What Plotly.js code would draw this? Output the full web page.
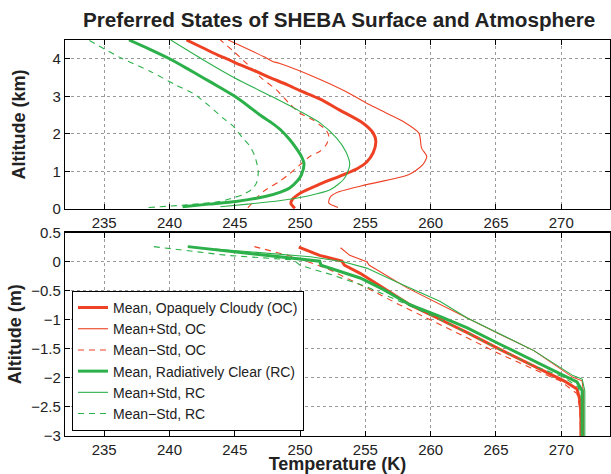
<!DOCTYPE html>
<html>
<head>
<meta charset="utf-8">
<script src="https://cdn.plot.ly/plotly-3.0.1.min.js"></script>
<style>html,body{margin:0;padding:0;background:#fff}#chart{width:611px;height:474px}</style>
</head>
<body>
<div id="chart"></div>
<script>
// ---- Data: upper panel (altitude in km) ----
const ocMeanKmT = [249.6, 249.3, 249.4, 250.0, 251.5, 253.3, 254.4, 255.1, 255.6, 255.8, 255.6, 254.8, 253.0, 251.5, 250.0, 249.0, 247.7, 246.4, 245.0, 244.4, 243.7, 242.5, 241.3];
const ocMeanKmZ = [0.02, 0.15, 0.25, 0.42, 0.66, 0.91, 1.08, 1.25, 1.5, 1.8, 2.02, 2.29, 2.64, 2.93, 3.15, 3.31, 3.5, 3.7, 3.9, 4.0, 4.1, 4.3, 4.5];
const ocPlusKmT = [252.9, 252.2, 252.3, 252.9, 255.1, 258.3, 259.4, 259.7, 259.3, 259.1, 257.9, 256.1, 255.3, 253.5, 251.0, 248.4, 247.9, 247.2, 244.5];
const ocPlusKmZ = [0.04, 0.16, 0.31, 0.45, 0.65, 0.91, 1.18, 1.4, 1.62, 2.02, 2.33, 2.64, 2.78, 3.13, 3.53, 3.88, 3.93, 4.06, 4.5];
const ocMinusKmT = [246.0, 246.2, 246.7, 247.2, 248.4, 249.1, 250.0, 250.8, 251.5, 252.0, 252.2, 252.0, 251.5, 251.0, 250.0, 249.2, 248.2, 247.0, 245.9, 244.9, 243.9];
const ocMinusKmZ = [0.03, 0.11, 0.3, 0.47, 0.73, 0.91, 1.18, 1.41, 1.53, 1.71, 1.93, 2.1, 2.24, 2.37, 2.55, 2.8, 3.17, 3.5, 3.88, 4.2, 4.5];
const rcMeanKmT = [241.0, 243.0, 245.1, 247.4, 248.5, 249.2, 249.8, 250.1, 250.3, 250.1, 249.7, 249.2, 248.5, 247.8, 246.9, 246.0, 245.0, 243.8, 242.6, 241.3, 240.0, 238.5, 236.9];
const rcMeanKmZ = [0.06, 0.13, 0.2, 0.34, 0.45, 0.56, 0.75, 0.91, 1.2, 1.4, 1.62, 1.85, 2.11, 2.3, 2.51, 2.75, 3.0, 3.25, 3.49, 3.75, 4.0, 4.25, 4.5];
const rcPlusKmT = [243.9, 246.0, 248.4, 250.5, 252.3, 253.4, 253.8, 253.5, 252.8, 251.5, 249.9, 247.8, 245.0, 242.6, 240.1];
const rcPlusKmZ = [0.06, 0.13, 0.22, 0.34, 0.51, 0.82, 1.18, 1.53, 1.89, 2.3, 2.62, 3.0, 3.49, 3.97, 4.5];
const rcMinusKmT = [238.4, 241.3, 243.85, 244.9, 245.6, 246.4, 246.7, 246.8, 246.7, 246.5, 246.1, 245.6, 244.9, 244.1, 243.0, 241.8, 240.5, 238.5, 236.3, 233.8];
const rcMinusKmZ = [0.04, 0.11, 0.2, 0.3, 0.38, 0.55, 0.73, 1.0, 1.2, 1.44, 1.7, 1.89, 2.2, 2.42, 2.76, 3.08, 3.3, 3.67, 4.02, 4.5];

// ---- Data: lower panel (altitude in m) ----
const ocMeanMT = [249.9, 251.5, 253.2, 253.4, 254.6, 256.4, 258.4, 260.7, 262.8, 265.3, 267.9, 270.2, 271.2, 271.4, 271.5, 271.5];
const ocMeanMZ = [0.25, 0.11, 0.01, -0.06, -0.2, -0.45, -0.74, -0.99, -1.22, -1.51, -1.79, -2.05, -2.19, -2.36, -2.6, -3.0];
const ocPlusMT = [253.1, 253.8, 255.1, 255.3, 258.2, 260.2, 262.8, 265.3, 267.9, 270.9, 271.6, 271.7, 271.7];
const ocPlusMZ = [0.24, 0.11, 0.0, -0.06, -0.45, -0.68, -0.97, -1.25, -1.53, -1.99, -2.05, -2.27, -3.0];
const ocMinusMT = [246.5, 249.5, 252.0, 255.1, 257.6, 260.2, 262.8, 265.3, 267.9, 269.9, 271.2, 271.4, 271.5];
const ocMinusMZ = [0.26, 0.085, -0.11, -0.45, -0.74, -1.02, -1.31, -1.59, -1.85, -2.05, -2.27, -2.5, -3.0];
const rcMeanMT = [241.4, 250.8, 251.5, 251.6, 253.1, 254.6, 256.4, 258.4, 260.7, 262.8, 265.3, 267.9, 270.2, 271.2, 271.6, 271.6, 271.6];
const rcMeanMZ = [0.26, 0.03, 0.01, -0.06, -0.17, -0.28, -0.48, -0.74, -0.94, -1.14, -1.42, -1.70, -1.96, -2.07, -2.22, -2.39, -3.0];
const rcPlusMT = [243.5, 250.8, 253.3, 255.1, 257.6, 260.7, 262.8, 265.3, 267.9, 270.9, 271.6, 271.8, 271.8];
const rcPlusMZ = [0.22, 0.085, 0.0, -0.11, -0.37, -0.68, -0.97, -1.25, -1.53, -1.96, -2.02, -2.22, -3.0];
const rcMinusMT = [238.8, 244.4, 249.5, 250.0, 252.5, 255.1, 257.6, 260.2, 262.8, 265.3, 267.9, 270.2, 271.3, 271.6, 271.6];
const rcMinusMZ = [0.26, 0.11, 0.03, -0.06, -0.23, -0.43, -0.68, -0.94, -1.22, -1.51, -1.79, -1.99, -2.16, -2.39, -3.0];

const seriesNames = ['Mean, Opaquely Cloudy (OC)', 'Mean+Std, OC', 'Mean\u2212Std, OC',
                     'Mean, Radiatively Clear (RC)', 'Mean+Std, RC', 'Mean\u2212Std, RC'];
const kmT = [ocMeanKmT, ocPlusKmT, ocMinusKmT, rcMeanKmT, rcPlusKmT, rcMinusKmT];
const kmZ = [ocMeanKmZ, ocPlusKmZ, ocMinusKmZ, rcMeanKmZ, rcPlusKmZ, rcMinusKmZ];
const mT = [ocMeanMT, ocPlusMT, ocMinusMT, rcMeanMT, rcPlusMT, rcMinusMT];
const mZ = [ocMeanMZ, ocPlusMZ, ocMinusMZ, rcMeanMZ, rcPlusMZ, rcMinusMZ];

const RED = '#ee4124', GREEN = '#2cb04a';
const styles = [
  {color: RED, width: 3, dash: 'solid'},
  {color: RED, width: 1.1, dash: 'solid'},
  {color: RED, width: 1.1, dash: '6px,5px'},
  {color: GREEN, width: 3, dash: 'solid'},
  {color: GREEN, width: 1.1, dash: 'solid'},
  {color: GREEN, width: 1.1, dash: '6px,5px'}
];

const traces = [];
for (let i = 0; i < 6; i++) {
  traces.push({x: kmT[i], y: kmZ[i], xaxis: 'x2', yaxis: 'y2', mode: 'lines', name: seriesNames[i],
    showlegend: false, line: Object.assign({shape: 'spline', smoothing: 0.7}, styles[i]), hoverinfo: 'skip'});
}
for (let i = 0; i < 6; i++) {
  traces.push({x: mT[i], y: mZ[i], xaxis: 'x', yaxis: 'y', mode: 'lines', name: seriesNames[i],
    showlegend: true, line: styles[i], hoverinfo: 'skip'});
}

const FONT = 'Liberation Sans, Arial, Helvetica, sans-serif';
const xRange = [232, 273.73];
const axBase = {
  showline: true, linecolor: '#000', linewidth: 1.2, mirror: 'ticks',
  ticks: 'inside', ticklen: 5, tickcolor: '#000', tickwidth: 1,
  showgrid: true, gridcolor: '#9a9a9a', griddash: 'dot', gridwidth: 1,
  zeroline: false, tickfont: {family: FONT, size: 15, color: '#222'}
};
const titleFont = {family: FONT, size: 18, color: '#222', weight: 'bold'};

const layout = {
  width: 611, height: 474,
  margin: {l: 65, r: 1, t: 40, b: 38},
  paper_bgcolor: '#fff', plot_bgcolor: '#fff',
  font: {family: FONT, color: '#222'},
  title: {text: 'Preferred States of SHEBA Surface and Atmosphere',
    font: {family: FONT, size: 20.7, color: '#222', weight: 'bold'},
    x: 0.503, xref: 'paper', xanchor: 'center', y: 1 - 20 / 474, yref: 'container', yanchor: 'middle'},
  xaxis: Object.assign({}, axBase, {range: xRange, dtick: 5, tick0: 235, anchor: 'y',
    title: {text: 'Temperature (K)', font: titleFont}}),
  yaxis: Object.assign({}, axBase, {range: [-3, 0.5], dtick: 0.5, tick0: 0, domain: [0, 0.5134], anchor: 'x',
    title: {text: 'Altitude (m)', font: titleFont, standoff: 4}}),
  xaxis2: Object.assign({}, axBase, {range: xRange, dtick: 5, tick0: 235, anchor: 'y2'}),
  yaxis2: Object.assign({}, axBase, {range: [0, 4.5], dtick: 1, tick0: 0, domain: [0.5732, 1], anchor: 'x2',
    title: {text: 'Altitude (km)', font: titleFont, standoff: 22}}),
  legend: {x: 0.0128, y: 0.0128, xanchor: 'left', yanchor: 'bottom', bgcolor: '#fff',
    bordercolor: '#000', borderwidth: 1, font: {family: FONT, size: 14, color: '#222'},
    traceorder: 'normal'},
  showlegend: true
};

Plotly.newPlot('chart', traces, layout, {staticPlot: true, displayModeBar: false});
</script>
</body>
</html>
